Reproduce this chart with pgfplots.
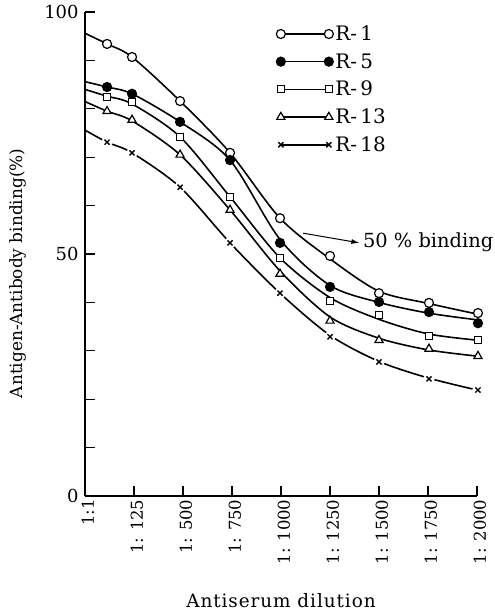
\documentclass[border=0pt]{standalone}
\usepackage{pgfplots}
\pgfplotsset{compat=1.18}
\usepackage{fontspec}
\setmainfont{DejaVu Serif}
\usetikzlibrary{arrows.meta}
\newcommand{\bigf}{\fontsize{17}{20}\selectfont}
\begin{document}
\begin{tikzpicture}
\useasboundingbox (-85bp,-116bp) rectangle (410bp,496bp);
\begin{axis}[
  at={(0,0)}, anchor=south west,
  scale only axis, width=392bp, height=484bp,
  xmin=0, xmax=8, ymin=0, ymax=100,
  axis x line*=bottom, axis y line*=left,
  axis line style={-, line width=1.3pt},
  clip=false,
  xtick={0,...,8},
  xticklabels={1:1,1: 125,1: 500,1: 750,1: 1000,1: 1250,1: 1500,1: 1750,1: 2000},
  xticklabel style={rotate=90, anchor=east, yshift=-3bp, font=\fontsize{16.5}{18}\selectfont},
  ytick={0,50,100},
  minor ytick={10,20,...,90},
  tick align=inside,
  major tick length=10bp, minor tick length=10bp,
  tick style={line width=1.2pt, black},
  yticklabel style={font=\fontsize{18}{20}\selectfont, xshift=-3bp},
  /pgf/number format/assume math mode=true,
  xlabel={Antiserum dilution},
  ylabel={Antigen-Antibody binding(\%)},
  xlabel style={at={(axis description cs:0.5,-0.217)}, anchor=center, font={\fontsize{18.5}{20}\selectfont\addfontfeature{LetterSpace=5}}},
  ylabel style={at={(axis description cs:-0.171,0.46)}, anchor=center, font=\bigf},
  legend style={draw=none, fill=none, at={(axis description cs:0.48,0.98)}, anchor=north west, font=\fontsize{20}{22}\selectfont, row sep=7.5bp},
  legend cell align=left,
  legend image code/.code={%
    \draw[black, line width=1.4pt] (0bp,0bp) -- (48bp,0bp);
    \draw[#1] plot coordinates {(0bp,0bp) (48bp,0bp)};},
]
% curves (smooth fitted lines)
\addplot[black, smooth, tension=0.5, line width=1.6pt, forget plot] coordinates {(0,95.6) (0.45,93.4) (0.96,90.7) (1.94,81.6) (2.96,70.9) (3.98,57.4) (5.0,49.0) (6.0,42.3) (7.0,39.8) (8.0,37.6)};
\addplot[black, smooth, tension=0.5, line width=1.6pt, forget plot] coordinates {(0,85.6) (0.45,84.5) (0.96,83.1) (1.94,77.3) (2.96,69.4) (3.98,53.0) (5.0,43.5) (6.0,40.0) (7.0,37.8) (8.0,36.4)};
\addplot[black, smooth, tension=0.5, line width=1.6pt, forget plot] coordinates {(0,84.0) (0.45,82.6) (0.96,81.0) (1.94,74.2) (2.96,61.8) (3.98,49.2) (5.0,41.0) (6.0,36.5) (7.0,33.5) (8.0,32.2)};
\addplot[black, smooth, tension=0.5, line width=1.6pt, forget plot] coordinates {(0,81.5) (0.45,79.5) (0.96,77.5) (1.94,70.5) (2.96,59.1) (3.98,46.5) (5.0,37.0) (6.0,32.6) (7.0,30.2) (8.0,28.9)};
\addplot[black, smooth, tension=0.5, line width=1.6pt, forget plot] coordinates {(0,75.6) (0.45,73.1) (0.96,70.9) (1.94,63.8) (2.96,52.3) (3.98,41.9) (5.0,33.2) (6.0,27.8) (7.0,24.4) (8.0,21.9)};
% gaps around the x marks of R-18
\addplot[white, only marks, mark=*, mark size=5.5bp, mark options={draw=white, fill=white}, forget plot] coordinates {(0.45,73.1) (0.96,70.9) (1.94,63.8) (2.96,52.3) (3.98,41.9) (5.0,32.9) (6.0,27.7) (7.02,24.2) (8.02,21.9)};
% markers
\addplot[black, only marks, mark=*, mark size=4.5bp, mark options={fill=white, line width=1.2pt}] coordinates {(0.45,93.4) (0.96,90.7) (1.94,81.6) (2.96,70.9) (3.98,57.4) (5.0,49.6) (6.0,41.9) (7.02,39.9) (8.02,37.8)};
\addlegendentry{R-\,1}
\addplot[black, only marks, mark=*, mark size=4.5bp, mark options={fill=black, line width=1.2pt}] coordinates {(0.45,84.5) (0.96,83.1) (1.94,77.3) (2.96,69.4) (3.98,52.3) (5.0,43.2) (6.0,40.1) (7.02,38.0) (8.02,35.7)};
\addlegendentry{R-\,5}
\addplot[black, only marks, mark=square*, mark size=3.6bp, mark options={fill=white, line width=1.2pt}] coordinates {(0.45,82.4) (0.96,81.4) (1.94,74.2) (2.96,61.8) (3.98,49.2) (5.0,40.3) (6.0,37.4) (7.02,33.1) (8.02,32.2)};
\addlegendentry{R-\,9}
\addplot[black, only marks, mark=triangle*, mark size=4.7bp, mark options={fill=white, line width=1.2pt}] coordinates {(0.45,79.5) (0.96,77.7) (1.94,70.5) (2.96,59.1) (3.98,45.9) (5.0,36.2) (6.0,32.2) (7.02,30.4) (8.02,28.9)};
\addlegendentry{R-\,13}
\addplot[black, only marks, mark=x, mark size=3.6bp, mark options={line width=1.4pt}] coordinates {(0.45,73.1) (0.96,70.9) (1.94,63.8) (2.96,52.3) (3.98,41.9) (5.0,32.9) (6.0,27.7) (7.02,24.2) (8.02,21.9)};
\addlegendentry{R-\,18}

\draw[-{Latex[length=8bp,width=5bp]}, line width=1pt] (axis cs:4.45,54.3) -- (axis cs:5.6,52.3);
\node[anchor=west, font=\fontsize{19.5}{22}\selectfont, inner sep=1bp] at (axis cs:5.65,52.5) {50 \% binding};
\end{axis}
\end{tikzpicture}
\end{document}
